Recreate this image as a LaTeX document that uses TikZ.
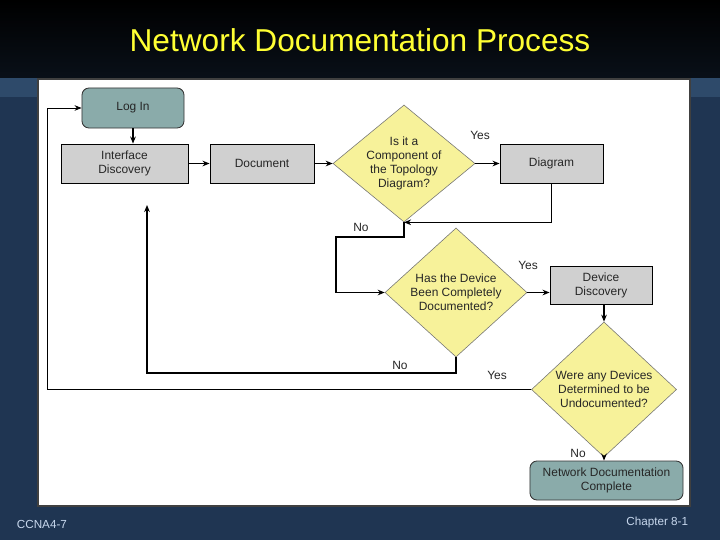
\documentclass[tikz,border=0pt]{standalone}
\usepackage{fontspec}
\setmainfont{Liberation Sans}
\usetikzlibrary{shapes.geometric,arrows.meta}
\definecolor{navy}{HTML}{1F3552}
\definecolor{tabblue}{HTML}{2E4A6A}
\definecolor{titleyellow}{HTML}{FFFF33}
\definecolor{footblue}{HTML}{C8D8EE}
\definecolor{tealbox}{HTML}{8AABAA}
\definecolor{graybox}{HTML}{D0D0D0}
\definecolor{paleyellow}{HTML}{F7F29A}
\begin{document}
\begin{tikzpicture}[x=0.025cm,y=-0.025cm,>={Stealth[length=5pt,width=4pt]},
  txt/.style={font=\fontsize{8.5}{10}\selectfont, align=center, text=black!85},
  termbox/.style={txt, draw=black!80, fill=tealbox, rounded corners=5pt, line width=0.6pt},
  taskbox/.style={txt, draw=black, fill=graybox, line width=0.6pt},
  decision/.style={txt, diamond, draw=black!55, fill=paleyellow, inner sep=0pt, aspect=1.2},
  lbl/.style={font=\fontsize{8.5}{10}\selectfont, text=black!85},
  flow/.style={->, line width=1.1pt}]
\useasboundingbox (0,0) rectangle (720,540);
% slide background
\fill[navy] (0,0) rectangle (720,540);
\shade[top color=black, bottom color=black!70!navy] (0,0) rectangle (720,78);
\fill[tabblue] (0,78) rectangle (37,97);
\fill[tabblue] (691,78) rectangle (720,97);
\filldraw[fill=white, draw=black!75, line width=2pt] (38,79) rectangle (690,506);
\node[font=\fontsize{22.5}{26}\selectfont, text=titleyellow] (title) at (360,40) {Network Documentation Process};
\node[font=\fontsize{8.3}{10}\selectfont, text=footblue, anchor=west] (course) at (12,524) {CCNA4-7};
\node[font=\fontsize{8.3}{10}\selectfont, text=footblue, anchor=east] (chapter) at (693,522) {Chapter 8-1};
% flow chart
\node[termbox, minimum width=2.55cm, minimum height=1cm] (login) at (133,108) {Log In};
\node[taskbox, minimum width=3.175cm, minimum height=0.975cm] (intdisc) at (124.5,163.5) {Interface\\Discovery};
\node[taskbox, minimum width=2.6cm, minimum height=0.975cm] (doc) at (262,163.5) {Document};
\node[decision, minimum width=3.55cm, minimum height=2.925cm] (qcomp) at (404,163.5) {Is it a\\Component of\\the Topology\\Diagram?};
\node[taskbox, minimum width=2.575cm, minimum height=0.975cm] (diagram) at (551.5,163.5) {Diagram};
\node[decision, minimum width=3.55cm, minimum height=3.225cm] (qdone) at (456,292.5) {Has the Device\\Been Completely\\Documented?};
\node[taskbox, minimum width=2.55cm, minimum height=0.95cm] (devdisc) at (601,285) {Device\\Discovery};
\node[decision, minimum width=3.625cm, minimum height=3.375cm] (qundoc) at (604,389.5) {Were any Devices\\Determined to be\\Undocumented?};
\node[termbox, minimum width=3.825cm, minimum height=0.975cm] (complete) at (606.5,480.5) {Network Documentation\\Complete};
\coordinate (nobend) at (336,237);
\coordinate (noleft) at (147,373);
\coordinate (noup) at (147,205);
\coordinate (yesleft) at (47,389.5);
\draw[flow] (login.south) -- (login.south |- intdisc.north);
\draw[flow] (intdisc) -- (doc);
\draw[flow] (doc) -- (qcomp);
\draw[flow] (qcomp) -- (diagram);
\draw[flow] (diagram.south) |- (qcomp.south);
\draw[flow] (qcomp.south) |- (nobend) |- (qdone.west);
\draw[flow] (qdone.east) -- (qdone.east -| devdisc.west);
\draw[flow] (qundoc.north |- devdisc.south) -- (qundoc.north);
\draw[flow] (qundoc.south) -- (qundoc.south |- complete.north);
\draw[flow] (qdone.south) |- (noleft) -- (noup);
\draw[->, line width=0.6pt] (qundoc.west) -- (yesleft) |- (login.west);
\node[lbl] (yes1) at (480,135) {Yes};
\node[lbl] (no1) at (361,227) {No};
\node[lbl] (yes2) at (528,265) {Yes};
\node[lbl] (no2) at (400,365) {No};
\node[lbl] (yes3) at (497,375) {Yes};
\node[lbl] (no3) at (578,453) {No};
\end{tikzpicture}
\end{document}
